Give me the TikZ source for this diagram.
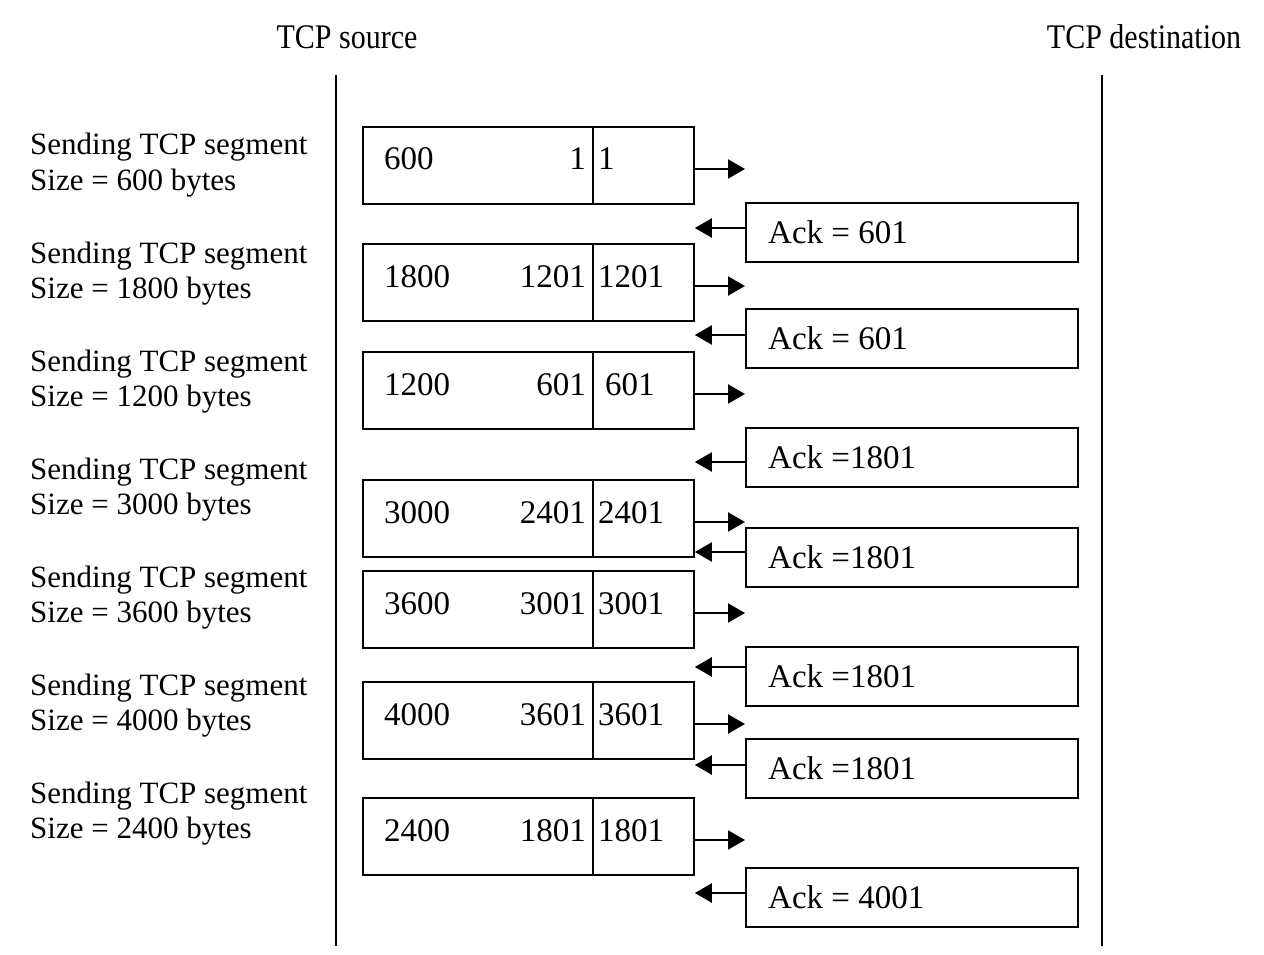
\documentclass[tikz,border=0pt]{standalone}
\usepackage{fontspec}
\setmainfont{Liberation Serif}
\usetikzlibrary{arrows.meta}
\begin{document}
\begin{tikzpicture}[x=1pt,y=-1pt,
  box/.style={draw, line width=1.8pt, inner sep=0pt, anchor=north west},
  num/.style={font=\fontsize{33}{40}\selectfont, inner sep=0pt},
  lbl/.style={font=\fontsize{31}{37}\selectfont, inner sep=0pt, anchor=base west},
  hdr/.style={font=\fontsize{30}{36}\selectfont, inner sep=0pt},
  arr/.style={line width=2.2pt, -{Triangle[length=17pt,width=19pt]}},
  life/.style={line width=1.8pt}]
\useasboundingbox (0,0) rectangle (1264,955);
% headers and lifelines
\node[hdr] (hsrc) at (347,37) {\scalebox{1}[1.15]{TCP source}};
\node[hdr] (hdst) at (1144,37) {\scalebox{1}[1.15]{TCP destination}};
\coordinate (srcTop) at (336,75);
\coordinate (srcBot) at (336,946);
\coordinate (dstTop) at (1102,75);
\coordinate (dstBot) at (1102,946);
\draw[life] (srcTop) -- (srcBot);
\draw[life] (dstTop) -- (dstBot);
% left labels
\foreach \j/\s in {0/600,1/1800,2/1200,3/3000,4/3600,5/4000,6/2400}{
  \node[lbl] (la\j) at (30,155+108*\j) {Sending TCP segment};
  \node[lbl] (lb\j) at (30,190+108*\j) {Size = \s\ bytes};
}
% segment boxes
\foreach \i/\t/\a/\b/\c/\cx/\ry in {1/126/600/1/1/598/169, 2/243/1800/1201/1201/598/286, 3/351/1200/601/601/605/394, 4/479/3000/2401/2401/598/522, 5/570/3600/3001/3001/598/613, 6/681/4000/3601/3601/598/724, 7/797/2400/1801/1801/598/840}{
  \node[box, minimum width=230pt, minimum height=77pt] (sL\i) at (362,\t) {};
  \node[box, minimum width=101pt, minimum height=77pt] (sR\i) at (592,\t) {};
  \node[num, anchor=base west] (ta\i) at (384,\t+44) {\a};
  \node[num, anchor=base east] (tb\i) at (586,\t+44) {\b};
  \node[num, anchor=base west] (tc\i) at (\cx,\t+44) {\c};
  \coordinate (ra\i) at (0,\ry);
}
% ack boxes
\foreach \i/\t/\txt/\ly in {1/202/{Ack = 601}/228, 2/308/{Ack = 601}/335, 3/427/{Ack =1801}/462, 4/527/{Ack =1801}/552, 5/646/{Ack =1801}/667, 6/738/{Ack =1801}/765, 7/867/{Ack = 4001}/893}{
  \node[box, minimum width=332pt, minimum height=59pt] (ak\i) at (745,\t) {};
  \node[num, anchor=base west] (at\i) at (768,\t+41) {\txt};
  \coordinate (la\i) at (0,\ly);
}
% arrows
\foreach \i in {1,...,7}{
  \draw[arr] (sR\i.east |- ra\i) -- (ak\i.west |- ra\i);
  \draw[arr] (ak\i.west |- la\i) -- (sR\i.east |- la\i);
}
\end{tikzpicture}
\end{document}
